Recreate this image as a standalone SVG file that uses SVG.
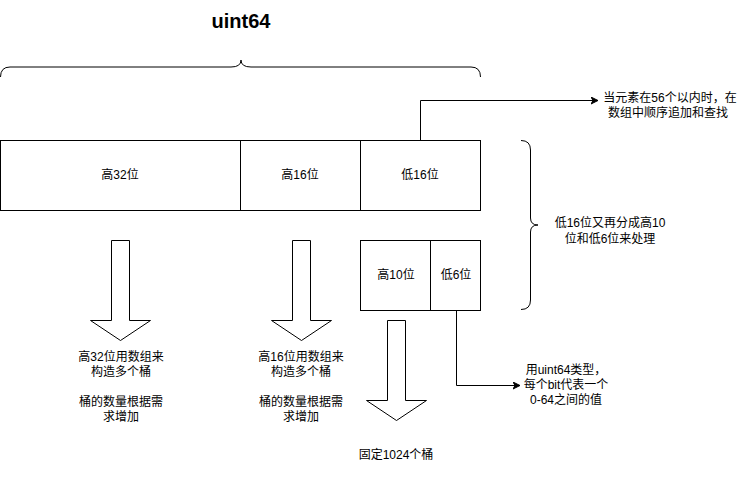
<svg xmlns="http://www.w3.org/2000/svg" width="742" height="481" viewBox="0 0 742 481">
<defs>
<style>
.b{fill:#fff;stroke:#000;stroke-width:1}
.l{fill:none;stroke:#000;stroke-width:1}
text{font-family:"Liberation Sans","Noto Sans CJK SC",sans-serif;font-size:12px;fill:#000;text-anchor:middle;dominant-baseline:central}
.t{font-size:20px;font-weight:bold}
</style>
<marker id="ah" markerWidth="8" markerHeight="8" refX="7" refY="4" orient="auto" markerUnits="userSpaceOnUse">
<path d="M0,0.5 L7,4 L0,7.5 L2,4 Z" fill="#000" stroke="#000"/>
</marker>
</defs>
<rect width="742" height="481" fill="#fff"/>
<g id="title"><text class="t" x="241" y="21">uint64</text></g>
<g id="brace-top"><path class="l" d="M0.5,77 Q0.5,67 10,67 L231,67 Q241,67 241,60 Q241,67 251,67 L471,67 Q480.5,67 480.5,77"/></g>
<g id="box-high32"><rect class="b" x="0.5" y="140.5" width="240" height="70"/><text x="120" y="175">高32位</text></g>
<g id="box-high16"><rect class="b" x="240.5" y="140.5" width="120" height="70"/><text x="300" y="175">高16位</text></g>
<g id="box-low16"><rect class="b" x="360.5" y="140.5" width="120" height="70"/><text x="420" y="175">低16位</text></g>
<g id="box-high10"><rect class="b" x="360.5" y="240.5" width="70" height="70"/><text x="396" y="275">高10位</text></g>
<g id="box-low6"><rect class="b" x="430.5" y="240.5" width="50" height="70"/><text x="456" y="275">低6位</text></g>
<g id="brace-right"><path class="l" d="M521,140.5 Q530.5,140.5 530.5,150 L530.5,218 Q530.5,225 538,225 Q530.5,225 530.5,232 L530.5,300 Q530.5,309.5 521,309.5"/>
<text x="610" y="223">低16位又再分成高10</text><text x="610" y="239">位和低6位来处理</text></g>
<g id="arrow1"><path class="b" d="M111.5,240.5 L129.5,240.5 L129.5,320.5 L150.5,320.5 L120.5,340.5 L90.5,320.5 L111.5,320.5 Z"/></g>
<g id="arrow2"><path class="b" d="M292.5,240.5 L310.5,240.5 L310.5,320.5 L331.5,320.5 L301.5,340.5 L271.5,320.5 L292.5,320.5 Z"/></g>
<g id="arrow3"><path class="b" d="M387.5,320.5 L405.5,320.5 L405.5,400.5 L426.5,400.5 L396.5,420.5 L366.5,400.5 L387.5,400.5 Z"/></g>
<g id="label1"><text x="121" y="357">高32位用数组来</text><text x="121" y="372">构造多个桶</text><text x="121" y="402">桶的数量根据需</text><text x="121" y="417">求增加</text></g>
<g id="label2"><text x="301" y="357">高16位用数组来</text><text x="301" y="372">构造多个桶</text><text x="301" y="402">桶的数量根据需</text><text x="301" y="417">求增加</text></g>
<g id="label3"><text x="396" y="455">固定1024个桶</text></g>
<g id="label-top"><text x="670" y="98">当元素在56个以内时，在</text><text x="668" y="113">数组中顺序追加和查找</text></g>
<g id="label-bit"><text x="566" y="370">用uint64类型，</text><text x="566" y="385">每个bit代表一个</text><text x="566" y="400">0-64之间的值</text></g>
<g id="connectors">
<path class="l" d="M420.5,140 L420.5,100.5 L598,100.5" marker-end="url(#ah)"/>
<path class="l" d="M456.5,310 L456.5,385.5 L520,385.5" marker-end="url(#ah)"/>
</g>
</svg>
